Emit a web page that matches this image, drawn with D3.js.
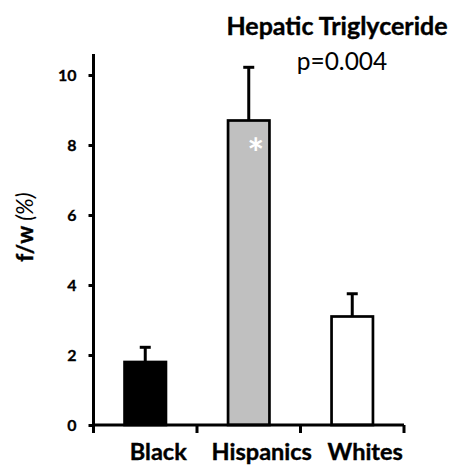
<!DOCTYPE html>
<html><head><meta charset="utf-8">
<script src="https://cdn.jsdelivr.net/npm/d3@7/dist/d3.min.js"></script>
<style>body{margin:0;background:#fff}svg{display:block}</style>
</head><body>
<script>
const categories = ["Black", "Hispanics", "Whites"];
const values = [1.8, 8.7, 3.1];
const errors = [0.42, 1.52, 0.65];
const fills = ["#000000", "#c0c0c0", "#ffffff"];
const yTicks = [0, 2, 4, 6, 8, 10];
const title = "Hepatic Triglyceride";
const pText = "p=0.004";

const W = 458, H = 465;
const FONT = "Lato, 'Open Sans', sans-serif";
const svg = d3.select("body").append("svg").attr("width", W).attr("height", H);

const x = d3.scaleBand().domain(categories).range([93.5, 404]).paddingInner(0.6).paddingOuter(0.3);
const y = d3.scaleLinear().domain([0, 10.6]).range([425, 54]);

// bars
svg.selectAll("rect.bar").data(categories).join("rect")
  .attr("class", "bar")
  .attr("x", d => x(d)).attr("width", x.bandwidth())
  .attr("y", (d, i) => y(values[i])).attr("height", (d, i) => y(0) - y(values[i]))
  .attr("fill", (d, i) => fills[i]).attr("stroke", "#000").attr("stroke-width", 2.7);

// error bars
const eb = svg.selectAll("g.err").data(categories).join("g").attr("class", "err");
eb.append("line")
  .attr("x1", d => x(d) + x.bandwidth() / 2).attr("x2", d => x(d) + x.bandwidth() / 2)
  .attr("y1", (d, i) => y(values[i])).attr("y2", (d, i) => y(values[i] + errors[i]))
  .attr("stroke", "#000").attr("stroke-width", 3);
eb.append("line")
  .attr("x1", d => x(d) + x.bandwidth() / 2 - 5.5).attr("x2", d => x(d) + x.bandwidth() / 2 + 5.5)
  .attr("y1", (d, i) => y(values[i] + errors[i])).attr("y2", (d, i) => y(values[i] + errors[i]))
  .attr("stroke", "#000").attr("stroke-width", 3);

// asterisk on Hispanics
svg.append("text")
  .attr("x", x("Hispanics") + x.bandwidth() / 2 + 7).attr("y", y(values[1]) + 47)
  .attr("text-anchor", "middle").attr("font-family", FONT).attr("font-weight", "bold")
  .attr("font-size", 40).attr("fill", "#fff").text("*");

// y axis
const yAxis = d3.axisLeft(y).tickValues(yTicks).tickSize(5).tickPadding(12).tickFormat(d3.format("d"));
const gy = svg.append("g").attr("transform", "translate(93.5,0)").call(yAxis);
gy.select(".domain").remove();
gy.append("line").attr("x1", 0).attr("x2", 0).attr("y1", y(10.6)).attr("y2", y(0) + 8)
  .attr("stroke", "#000").attr("stroke-width", 3);
gy.selectAll(".tick line").attr("stroke", "#000").attr("stroke-width", 3);
gy.selectAll(".tick text").attr("font-family", FONT).attr("font-weight", "bold")
  .attr("font-size", 16).attr("fill", "#000").attr("stroke", "#000").attr("stroke-width", 0.3);

// x axis
const xEdges = [x.range()[0]].concat(categories.map(c => x(c) + x.bandwidth() + x.step() * x.paddingInner() / 2));
xEdges[xEdges.length - 1] = x.range()[1];
svg.append("line").attr("x1", 92).attr("x2", x.range()[1]).attr("y1", y(0)).attr("y2", y(0))
  .attr("stroke", "#000").attr("stroke-width", 3);
svg.selectAll("line.xt").data(xEdges).join("line").attr("class", "xt")
  .attr("x1", d => d).attr("x2", d => d).attr("y1", y(0)).attr("y2", y(0) + 8)
  .attr("stroke", "#000").attr("stroke-width", 3);
svg.selectAll("text.cat").data(categories).join("text").attr("class", "cat")
  .attr("x", d => x(d) + x.bandwidth() / 2 + 13).attr("y", 460)
  .attr("text-anchor", "middle").attr("font-family", FONT).attr("font-weight", "bold")
  .attr("font-size", 23.5).attr("fill", "#000").attr("stroke", "#000").attr("stroke-width", 0.4).text(d => d);

// y label
const yl = svg.append("text").attr("transform", "translate(33,227) rotate(-90)")
  .attr("text-anchor", "middle").attr("font-family", FONT).attr("font-size", 22.5).attr("fill", "#000");
yl.append("tspan").attr("font-weight", "bold").attr("stroke", "#000").attr("stroke-width", 0.4).text("f/w ");
yl.append("tspan").attr("font-style", "italic").text("(%)");

// title
svg.append("text").attr("x", 337).attr("y", 35).attr("text-anchor", "middle")
  .attr("font-family", FONT).attr("font-weight", "bold").attr("font-size", 25).attr("fill", "#000")
  .attr("stroke", "#000").attr("stroke-width", 0.4).text(title);
svg.append("text").attr("x", 342).attr("y", 70).attr("text-anchor", "middle")
  .attr("font-family", FONT).attr("font-size", 24.5).attr("fill", "#000").text(pText);
</script>
</body></html>
